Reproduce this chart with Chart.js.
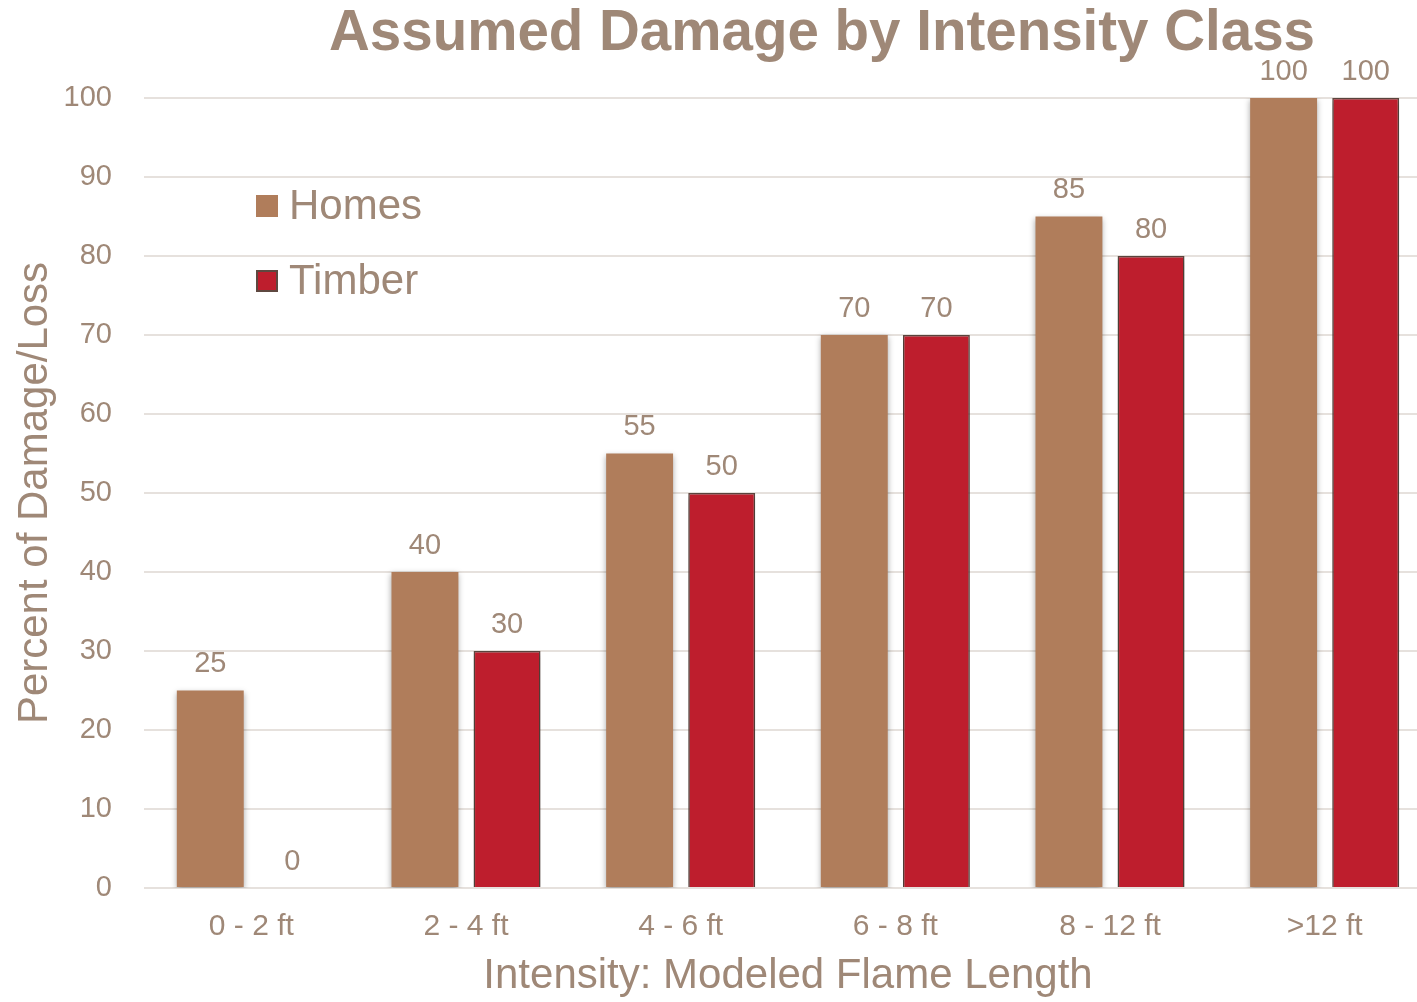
<!DOCTYPE html>
<html>
<head>
<meta charset="utf-8">
<script src="https://cdn.jsdelivr.net/npm/chart.js@4/dist/chart.umd.min.js"></script>
<style>
  html, body { margin: 0; padding: 0; background: #ffffff; overflow: hidden; }
  #frame { width: 1417px; height: 1002px; overflow: hidden; position: relative; }
  #wrap { width: 1432px; height: 1002px; position: absolute; left: 0; top: 0; }
</style>
</head>
<body>
<div id="frame"><div id="wrap"><canvas id="c"></canvas></div></div>
<script>
const categories = ['0 - 2 ft', '2 - 4 ft', '4 - 6 ft', '6 - 8 ft', '8 - 12 ft', '>12 ft'];
const homes = [25, 40, 55, 70, 85, 100];
const timber = [0, 30, 50, 70, 80, 100];
const seriesNames = ['Homes', 'Timber'];
const titleText = 'Assumed Damage by Intensity Class';
const xTitle = 'Intensity: Modeled Flame Length';
const yTitle = 'Percent of Damage/Loss';

const textColor = '#9f8877';
const homesColor = '#b07d5b';
const timberColor = '#be1e2d';
const FONT = '"Liberation Sans", Arial, sans-serif';

// Soft drop shadow under the bars
const barShadow = {
  id: 'barShadow',
  beforeDatasetDraw(chart) {
    const ctx = chart.ctx;
    ctx.save();
    ctx.shadowColor = 'rgba(0,0,0,0.35)';
    ctx.shadowBlur = 6;
    ctx.shadowOffsetX = 0;
    ctx.shadowOffsetY = 2;
  },
  afterDatasetDraw(chart) {
    chart.ctx.restore();
  }
};

// Value labels above each bar, title, and the inset legend
const decorations = {
  id: 'decorations',
  afterDatasetsDraw(chart) {
    const ctx = chart.ctx;
    ctx.save();
    ctx.font = '29px ' + FONT;
    ctx.fillStyle = textColor;
    ctx.textAlign = 'center';
    ctx.textBaseline = 'bottom';
    chart.data.datasets.forEach((ds, i) => {
      const meta = chart.getDatasetMeta(i);
      meta.data.forEach((bar, j) => {
        ctx.fillText(String(ds.data[j]), bar.x, bar.y - 12);
      });
    });
    ctx.restore();
  },
  afterDraw(chart) {
    const ctx = chart.ctx;
    ctx.save();
    // title
    ctx.font = 'bold 56.5px ' + FONT;
    ctx.fillStyle = textColor;
    ctx.textAlign = 'center';
    ctx.textBaseline = 'alphabetic';
    ctx.fillText(titleText, 822, 50);
    // legend
    const area = chart.chartArea;
    const x0 = area.left + 112;
    const baselines = [219, 294];
    chart.data.datasets.forEach((ds, i) => {
      const base = baselines[i];
      ctx.fillStyle = ds.backgroundColor;
      ctx.fillRect(x0, base - 24, 22, 22);
      if (ds.borderWidth) {
        ctx.strokeStyle = ds.borderColor;
        ctx.lineWidth = 2;
        ctx.strokeRect(x0 + 1, base - 23, 20, 20);
      }
      ctx.fillStyle = textColor;
      ctx.font = '42px ' + FONT;
      ctx.textAlign = 'left';
      ctx.textBaseline = 'alphabetic';
      ctx.fillText(ds.label, x0 + 33, base);
    });
    ctx.restore();
  }
};

new Chart(document.getElementById('c'), {
  type: 'bar',
  data: {
    labels: categories,
    datasets: [
      { label: seriesNames[0], data: homes, backgroundColor: homesColor, borderWidth: 0 },
      { label: seriesNames[1], data: timber, backgroundColor: timberColor, borderColor: '#5e4840', borderWidth: 1.5 }
    ]
  },
  options: {
    responsive: true,
    maintainAspectRatio: false,
    animation: false,
    datasets: { bar: { categoryPercentage: 0.765, barPercentage: 0.815 } },
    layout: { padding: { top: 98, right: 0, bottom: 0, left: 10 } },
    plugins: {
      legend: { display: false },
      title: { display: false },
      tooltip: { enabled: false }
    },
    scales: {
      x: {
        grid: { display: false },
        border: { display: false },
        ticks: { color: textColor, font: { family: FONT, size: 30 }, padding: 13 },
        title: { display: true, text: xTitle, color: textColor, font: { family: FONT, size: 42 }, padding: { top: 0, bottom: 0 } },
        afterFit(scale) { scale.height = 114; }
      },
      y: {
        min: 0, max: 100,
        grid: { color: '#e6e1dd', lineWidth: 2, drawTicks: false },
        border: { display: false },
        ticks: { stepSize: 10, color: textColor, font: { family: FONT, size: 29 }, padding: 32 },
        title: { display: true, text: yTitle, color: textColor, font: { family: FONT, size: 42 }, padding: { top: 0, bottom: 0 } },
        afterFit(scale) { scale.width = 134; }
      }
    }
  },
  plugins: [barShadow, decorations]
});
</script>
</body>
</html>
